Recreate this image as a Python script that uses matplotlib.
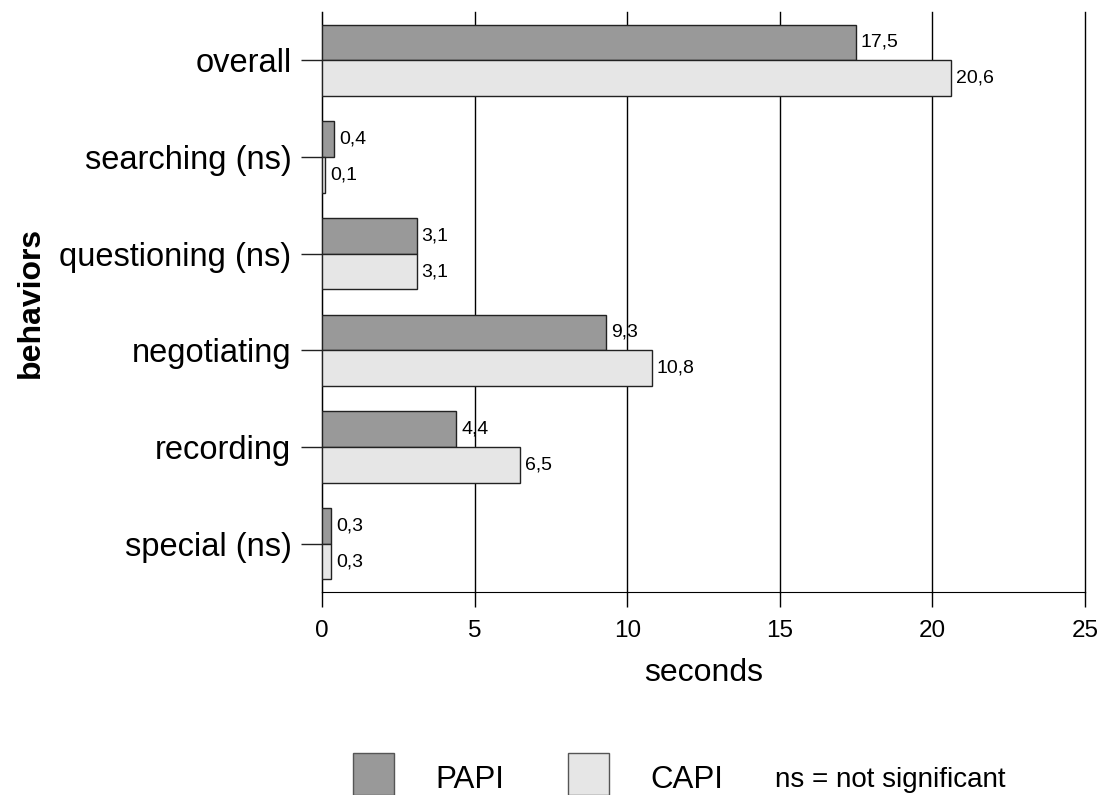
import matplotlib.pyplot as plt
from matplotlib.patches import Rectangle
import numpy as np

plt.rcParams['font.family'] = ['Liberation Sans', 'DejaVu Sans']

behaviors = ['overall', 'searching (ns)', 'questioning (ns)', 'negotiating', 'recording', 'special (ns)']
papi = [17.5, 0.4, 3.1, 9.3, 4.4, 0.3]
capi = [20.6, 0.1, 3.1, 10.8, 6.5, 0.3]
xticks = [0, 5, 10, 15, 20, 25]

fig = plt.figure(figsize=(11.03, 7.95), dpi=100)
ax = fig.add_axes([322 / 1103, 1 - 592 / 795, 763 / 1103, 580 / 795])

y = np.arange(len(behaviors))
h = 0.37
b1 = ax.barh(y - h / 2, papi, height=h, color='#999999', edgecolor='#222222', linewidth=1, zorder=3)
b2 = ax.barh(y + h / 2, capi, height=h, color='#e6e6e6', edgecolor='#222222', linewidth=1, zorder=3)

for bars, vals in ((b1, papi), (b2, capi)):
    for bar, v in zip(bars, vals):
        ax.annotate(str(v).replace('.', ','), (bar.get_width(), bar.get_y() + bar.get_height() / 2),
                    xytext=(3.5, 0), textcoords='offset points', va='center', ha='left', fontsize=14)

ax.set_xlim(0, 25)
ax.set_ylim(len(behaviors) - 0.5, -0.5)
ax.set_xticks(xticks)
ax.set_xticklabels([str(t) for t in xticks], fontsize=17.5)
ax.set_yticks(y)
ax.set_yticklabels(behaviors, fontsize=23.5)
ax.tick_params(axis='y', length=15, width=1, color='#222222', pad=7)
ax.tick_params(axis='x', length=11, width=1, color='black', pad=9)
ax.grid(axis='x', color='black', linewidth=1, zorder=0)
for gl in ax.get_xgridlines():
    gl.set_clip_on(False)
ax.spines['top'].set_visible(False)
ax.spines['right'].set_visible(False)
ax.spines['left'].set_color('black')
ax.spines['bottom'].set_color('black')
ax.set_xlabel('seconds', fontsize=23, labelpad=12)
ax.set_ylabel('behaviors', fontsize=23, fontweight='bold', labelpad=10)

# legend along the bottom edge
fig.patches.append(Rectangle((353 / 1103, 0), 41 / 1103, 42 / 795, transform=fig.transFigure,
                             facecolor='#999999', edgecolor='#555555', linewidth=1))
fig.patches.append(Rectangle((568 / 1103, 0), 41 / 1103, 42 / 795, transform=fig.transFigure,
                             facecolor='#e6e6e6', edgecolor='#555555', linewidth=1))
fig.text(435 / 1103, 7 / 795, 'PAPI', fontsize=22.5, va='baseline', ha='left')
fig.text(650 / 1103, 7 / 795, 'CAPI', fontsize=22.5, va='baseline', ha='left')
fig.text(775 / 1103, 8 / 795, 'ns = not significant', fontsize=20, va='baseline', ha='left')

fig.savefig('out.png', dpi=100)
